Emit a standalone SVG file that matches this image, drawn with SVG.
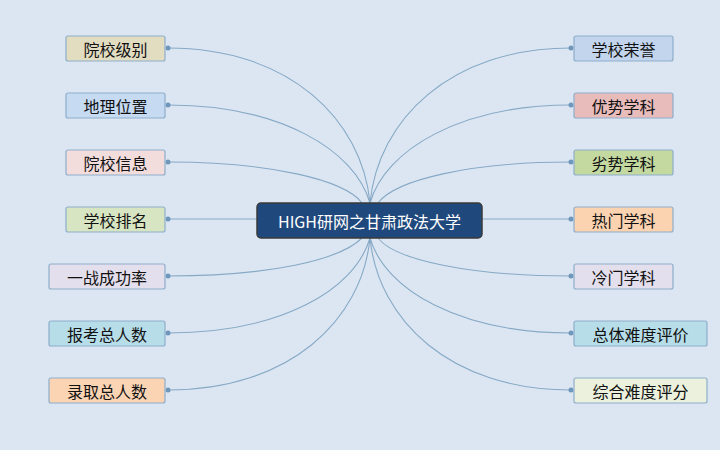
<svg xmlns="http://www.w3.org/2000/svg" width="720" height="450" viewBox="0 0 720 450">
<style>
.n rect{stroke:#8eaecb;stroke-width:1.2}
.n text{font-family:"Noto Sans CJK SC",sans-serif;font-size:16px;fill:#111;text-anchor:middle;dominant-baseline:central}
.c path{fill:none;stroke:#86a9c6;stroke-width:1.1}
.c circle{fill:#6f97bb}
</style>
<rect width="720" height="450" fill="#dce6f2"/>
<g class="c">
<path d="M168,48 C290,48 362,120 370,203"/>
<path d="M168,105 C280,105 355,150 370,203"/>
<path d="M168,162 C270,162 345,180 362,203"/>
<path d="M168,219 L257,219"/>
<path d="M168,276 C270,276 340,260 362,238"/>
<path d="M168,333 C280,333 355,290 370,238"/>
<path d="M168,390 C290,390 362,320 370,238"/>
<path d="M571,48 C450,48 378,120 370,203"/>
<path d="M571,105 C460,105 385,150 370,203"/>
<path d="M571,162 C470,162 395,180 378,203"/>
<path d="M571,219 L482,219"/>
<path d="M571,276 C470,276 395,260 378,238"/>
<path d="M571,333 C460,333 385,290 370,238"/>
<path d="M571,390 C450,390 378,320 370,238"/>
<circle cx="168" cy="48" r="2.5"/><circle cx="168" cy="105" r="2.5"/><circle cx="168" cy="162" r="2.5"/><circle cx="168" cy="219" r="2.5"/><circle cx="168" cy="276" r="2.5"/><circle cx="168" cy="333" r="2.5"/><circle cx="168" cy="390" r="2.5"/>
<circle cx="571" cy="48" r="2.5"/><circle cx="571" cy="105" r="2.5"/><circle cx="571" cy="162" r="2.5"/><circle cx="571" cy="219" r="2.5"/><circle cx="571" cy="276" r="2.5"/><circle cx="571" cy="333" r="2.5"/><circle cx="571" cy="390" r="2.5"/>
</g>
<g id="center"><rect x="257" y="203" width="225" height="35" rx="4" fill="#1f497d" stroke="#3a3a3a" stroke-width="1.5"/><text x="369.5" y="220.5" style="font-family:'Noto Sans CJK SC',sans-serif;font-size:16px;fill:#fff;text-anchor:middle;dominant-baseline:central">HIGH研网之甘肃政法大学</text></g>
<g id="l1" class="n"><rect x="66" y="36" width="99" height="25" rx="2" fill="#e2dcc1"/><text x="115.5" y="48.5">院校级别</text></g>
<g id="l2" class="n"><rect x="66" y="93" width="99" height="25" rx="2" fill="#c6daf1"/><text x="115.5" y="105.5">地理位置</text></g>
<g id="l3" class="n"><rect x="66" y="150" width="99" height="25" rx="2" fill="#f3dcdc"/><text x="115.5" y="162.5">院校信息</text></g>
<g id="l4" class="n"><rect x="66" y="207" width="99" height="25" rx="2" fill="#d8e5c2"/><text x="115.5" y="219.5">学校排名</text></g>
<g id="l5" class="n"><rect x="49" y="264" width="116" height="25" rx="2" fill="#e4dfec"/><text x="107" y="276.5">一战成功率</text></g>
<g id="l6" class="n"><rect x="49" y="321" width="116" height="25" rx="2" fill="#b7dde8"/><text x="107" y="333.5">报考总人数</text></g>
<g id="l7" class="n"><rect x="49" y="378" width="116" height="25" rx="2" fill="#fbd4b4"/><text x="107" y="390.5">录取总人数</text></g>
<g id="r1" class="n"><rect x="574" y="36" width="99" height="25" rx="2" fill="#c2d5ec"/><text x="623.5" y="48.5">学校荣誉</text></g>
<g id="r2" class="n"><rect x="574" y="93" width="99" height="25" rx="2" fill="#e9bcbc"/><text x="623.5" y="105.5">优势学科</text></g>
<g id="r3" class="n"><rect x="574" y="150" width="99" height="25" rx="2" fill="#c4d9a0"/><text x="623.5" y="162.5">劣势学科</text></g>
<g id="r4" class="n"><rect x="574" y="207" width="99" height="25" rx="2" fill="#fbd3b0"/><text x="623.5" y="219.5">热门学科</text></g>
<g id="r5" class="n"><rect x="574" y="264" width="99" height="25" rx="2" fill="#e4dfec"/><text x="623.5" y="276.5">冷门学科</text></g>
<g id="r6" class="n"><rect x="574" y="321" width="133" height="25" rx="2" fill="#b6dde8"/><text x="640.5" y="333.5">总体难度评价</text></g>
<g id="r7" class="n"><rect x="574" y="378" width="133" height="25" rx="2" fill="#ebf1dd"/><text x="640.5" y="390.5">综合难度评分</text></g>
</svg>
